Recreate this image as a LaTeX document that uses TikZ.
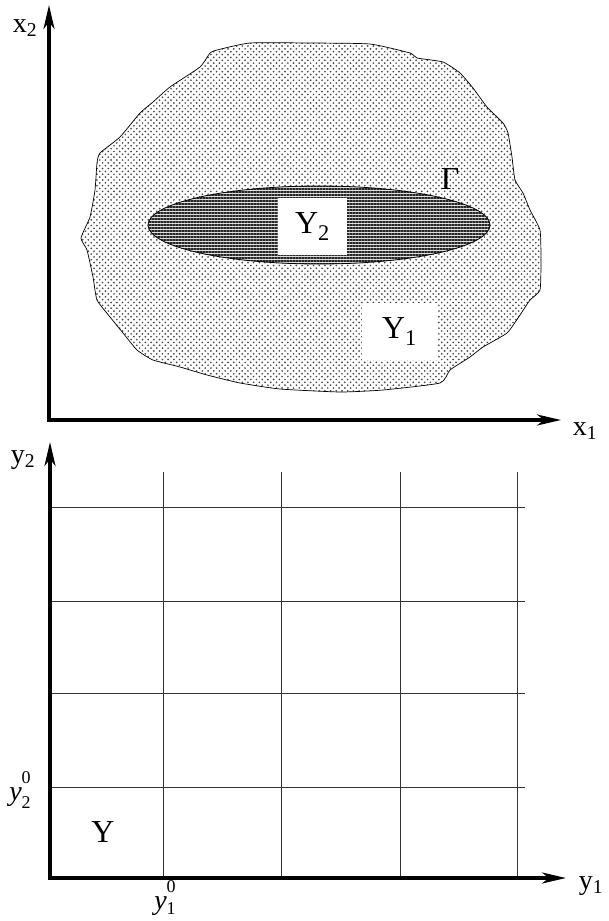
\documentclass[tikz,border=0pt]{standalone}
\usepackage{fontspec}
\setmainfont{Liberation Serif}
\usetikzlibrary{arrows.meta,patterns,patterns.meta}
\pgfdeclarepatternformonly{mydots}{\pgfpoint{-1pt}{-1pt}}{\pgfpoint{6.7pt}{6.7pt}}{\pgfpoint{5.7pt}{5.7pt}}{%
  \pgfpathcircle{\pgfpoint{0pt}{0pt}}{0.95pt}%
  \pgfpathcircle{\pgfpoint{2.85pt}{2.85pt}}{0.95pt}%
  \pgfusepath{fill}}
\begin{document}
\begin{tikzpicture}[x=1pt,y=-1pt,
  axis/.style={line width=3.2pt,line join=miter,{Stealth[length=24pt,width=11pt,inset=7pt]}-{Stealth[length=24pt,width=11pt,inset=7pt]}},
  gridline/.style={line width=0.8pt,black!80},
  lbl/.style={font=\fontsize{28}{28}\selectfont,inner sep=0pt},
  big/.style={font=\fontsize{32}{32}\selectfont,inner sep=0pt},
  whitebox/.style={big,fill=white,draw=none},
  supsub/.style={font=\fontsize{28}{28}\selectfont,inner sep=0pt}]
\useasboundingbox (0,0) rectangle (608,921);

% region Y1 (dotted blob)
\draw[line width=0.7pt,pattern=mydots,pattern color=black!72]
  plot[smooth cycle,tension=0.3] coordinates {
  (200,67) (210,53) (217,50) (250,43) (310,43) (370,44) (410,53) (417,58)
  (443,62) (460,73) (473,88) (487,107) (503,123) (508,133) (512,157) (515,180)
  (523,193) (530,210) (540,230) (541,260) (540,290) (530,300) (520,315) (507,333)
  (483,347) (470,357) (450,370) (440,383) (383,390) (340,392) (280,389) (240,383)
  (207,375) (180,367) (153,360) (137,350) (123,333) (110,317) (97,300) (93,277)
  (87,250) (81,238) (90,217) (95,190) (97,163) (100,153) (120,137) (140,113)
  (153,102) (170,87)};

% region Y2 (striped ellipse)
\fill[black!12] (319,225) ellipse [x radius=171,y radius=39];
\draw[line width=0.8pt,pattern={Lines[angle=0,distance=3pt,line width=1.4pt]},pattern color=black!85]
  (319,225) ellipse [x radius=171,y radius=39];

\node[whitebox,minimum width=69pt,minimum height=57pt] (Y2) at (312.5,226.5) {Y\textsubscript{2}};
\node[whitebox,minimum width=75pt,minimum height=57pt] (Y1) at (399.5,331.5) {Y\textsubscript{1}};
\node[big] (Gamma) at (450,179) {Γ};

% top axes
\coordinate (O1) at (49,420);
\coordinate (X1end) at (561,420);
\coordinate (X2end) at (49,5);
\draw[axis] (X2end) -- (O1) -- (X1end);
\node[lbl] (x2lab) at (25,28) {x\textsubscript{2}};
\node[lbl] (x1lab) at (585,431) {x\textsubscript{1}};

% bottom grid
\foreach \xx/\nm in {163/a,281/b,400/c,517/d}{
  \coordinate (vt\nm) at (\xx,472);
  \coordinate (vb\nm) at (\xx,878);
  \draw[gridline] (vt\nm) -- (vb\nm);
}
\foreach \yy/\nm in {507/a,601/b,693/c,787/d}{
  \coordinate (hl\nm) at (50,\yy);
  \coordinate (hr\nm) at (525,\yy);
  \draw[gridline] (hl\nm) -- (hr\nm);
}

% bottom axes
\coordinate (O2) at (50,878);
\coordinate (Y1end) at (566,878);
\coordinate (Y2end) at (50,442);
\draw[axis] (Y2end) -- (O2) -- (Y1end);
\node[lbl] (y2lab) at (23,460) {y\textsubscript{2}};
\node[lbl] (y1lab) at (591,886) {y\textsubscript{1}};

\node[big] (Ylab) at (103,832) {Y};
\node[supsub] (y20) at (20,790) {\textit{y}\rlap{\raisebox{0.62em}{\fontsize{18}{18}\selectfont 0}}\raisebox{-0.28em}{\fontsize{18}{18}\selectfont 2}};
\node[supsub] (y10) at (165,898) {\textit{y}\rlap{\raisebox{0.6em}{\fontsize{18}{18}\selectfont 0}}\raisebox{-0.2em}{\fontsize{18}{18}\selectfont 1}};
\end{tikzpicture}
\end{document}
